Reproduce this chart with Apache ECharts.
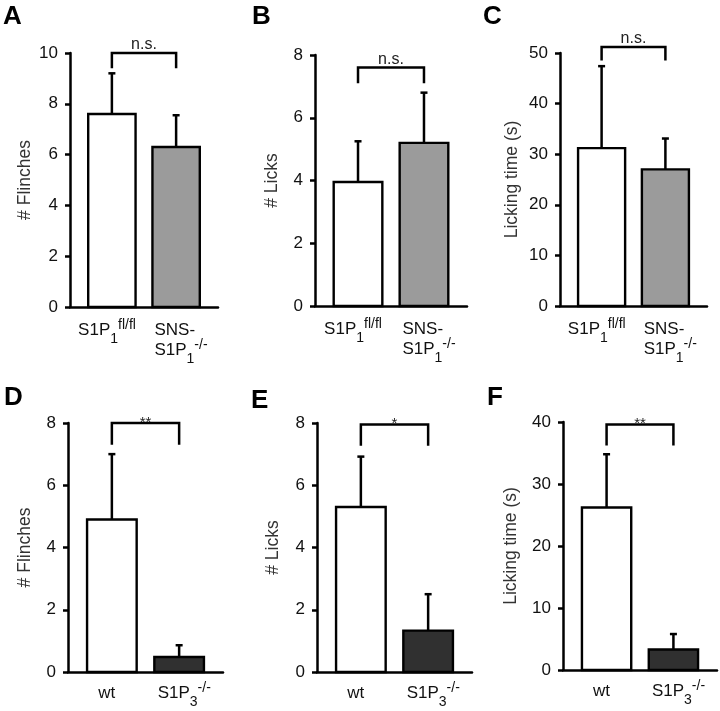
<!DOCTYPE html>
<html>
<head>
<meta charset="utf-8">
<script src="https://cdn.jsdelivr.net/npm/echarts@6/dist/echarts.min.js"></script>
<style>
  html, body { margin: 0; padding: 0; background: #fff; }
  #main { width: 720px; height: 711px; }
</style>
</head>
<body>
<div id="main"></div>
<script>
// categories (rich text: n = normal, sub = subscript, sup = superscript)
const catsTop = ['{n|S1P}{sub|1}{sup|fl/fl}', '{n|SNS-}\n{n|S1P}{sub|1}{sup|-/-}'];
const catsBottom = ['{n|wt}', '{n|S1P}{sub|3}{sup|-/-}'];

const letters = ['A', 'B', 'C', 'D', 'E', 'F'];
const yNames = ['# Flinches', '# Licks', 'Licking time (s)', '# Flinches', '# Licks', 'Licking time (s)'];
const yMax = [10, 8, 50, 8, 8, 40];
const yStep = [2, 2, 10, 2, 2, 10];

// bar means and SEM (upper error only)
const meanA = [7.6, 6.3],   errA = [1.6, 1.25];
const meanB = [3.95, 5.2],  errB = [1.3, 1.6];
const meanC = [31.2, 27.0], errC = [16.2, 6.1];
const meanD = [4.9, 0.48],  errD = [2.1, 0.38];
const meanE = [5.3, 1.33],  errE = [1.62, 1.17];
const meanF = [26.2, 3.3],  errF = [8.6, 2.5];

// significance brackets
const sigText = ['n.s.', 'n.s.', 'n.s.', '**', '*', '**'];
const bracketTop = [10, 7.6, 51.2, 8, 7.95, 39.6];
const bracketLeg = [9.4, 7.1, 48.5, 7.3, 7.27, 36.2];

const means = [meanA, meanB, meanC, meanD, meanE, meanF];
const errs = [errA, errB, errC, errD, errE, errF];

const FONT = 'Liberation Sans, Arial, sans-serif';
const grids = [
  { left: 70, top: 53, width: 148, height: 254 },
  { left: 315, top: 55, width: 152, height: 251 },
  { left: 560, top: 53, width: 147, height: 253 },
  { left: 68, top: 423, width: 155, height: 249 },
  { left: 317, top: 423, width: 155, height: 249 },
  { left: 563, top: 422, width: 154, height: 248 }
];
const letterPos = [[3, 4], [252, 4], [483, 4], [4, 385], [251, 388], [487, 385]];
const nameGaps = [36, 34, 39, 34, 35, 43];
const fills = [['#fff', '#9b9b9b'], ['#fff', '#9b9b9b'], ['#fff', '#9b9b9b'],
               ['#fff', '#303030'], ['#fff', '#303030'], ['#fff', '#303030']];
const BAR_W = 0.64, SHIFT = 0.066;

const rich = {
  n: { fontSize: 17, lineHeight: 20, align: 'left', fontFamily: FONT, color: '#111' },
  sub: { fontSize: 14, lineHeight: 20, align: 'left', fontFamily: FONT, color: '#111', padding: [18, 0, 0, 0] },
  sup: { fontSize: 14, lineHeight: 20, align: 'left', fontFamily: FONT, color: '#111', padding: [0, 0, 10, 0] }
};

const ink = { stroke: '#000', lineWidth: 2.5 };

function barRender(p) {
  return function (params, api) {
    const i = api.value(0), m = api.value(1), e = api.value(2);
    const base = api.coord([i, 0]);
    const top = api.coord([i, m]);
    const eTop = api.coord([i, m + e]);
    const band = api.size([1, 0])[0];
    const w = band * BAR_W;
    const cx = base[0] + (i === 0 ? 1 : -1) * band * SHIFT;
    return {
      type: 'group',
      children: [
        { type: 'rect', shape: { x: cx - w / 2, y: top[1], width: w, height: base[1] - top[1] },
          style: { fill: fills[p][i], stroke: '#000', lineWidth: 2.4 } },
        { type: 'line', shape: { x1: cx, y1: top[1], x2: cx, y2: eTop[1] }, style: ink },
        { type: 'line', shape: { x1: cx - 3.5, y1: eTop[1], x2: cx + 3.5, y2: eTop[1] }, style: ink }
      ]
    };
  };
}

function bracketRender(p) {
  return function (params, api) {
    const t = api.value(0), l = api.value(1);
    const band = api.size([1, 0])[0];
    const a = api.coord([0, t]), b = api.coord([1, t]);
    const la = api.coord([0, l]);
    const x1 = a[0] + band * SHIFT, x2 = b[0] - band * SHIFT;
    const star = sigText[p].indexOf('*') >= 0;
    return {
      type: 'group',
      children: [
        { type: 'polyline', shape: { points: [[x1, la[1]], [x1, a[1]], [x2, a[1]], [x2, la[1]]] },
          style: { stroke: '#000', lineWidth: 2.5, fill: null } },
        { type: 'text', style: {
            text: sigText[p], x: (x1 + x2) / 2, y: a[1] + (star ? 7 : 0),
            align: 'center', verticalAlign: 'bottom',
            font: (star ? '15px ' : '16px ') + FONT, fill: '#222' } }
      ]
    };
  };
}

const option = {
  animation: false,
  backgroundColor: '#fff',
  title: letters.map((t, k) => ({
    text: t, left: letterPos[k][0], top: letterPos[k][1], padding: 0,
    textStyle: { fontSize: 26, fontWeight: 'bold', fontFamily: FONT, color: '#000' }
  })),
  grid: grids,
  xAxis: grids.map((g, k) => ({
    type: 'category', gridIndex: k,
    data: k < 3 ? catsTop : catsBottom,
    axisLine: { show: true, lineStyle: { color: '#000', width: 2.5 } },
    axisTick: { show: false },
    axisLabel: { interval: 0, margin: k < 3 ? 13 : 11, rich: rich, lineHeight: 20 },
    splitLine: { show: false }
  })),
  yAxis: grids.map((g, k) => ({
    type: 'value', gridIndex: k, min: 0, max: yMax[k], interval: yStep[k],
    name: yNames[k], nameLocation: 'middle', nameGap: nameGaps[k],
    nameTextStyle: { fontSize: 17.5, fontFamily: FONT, color: '#333' },
    axisLine: { show: true, lineStyle: { color: '#000', width: 2.5 } },
    axisTick: { show: true, length: 5, lineStyle: { color: '#000', width: 2.5 } },
    axisLabel: { fontSize: 17, fontFamily: FONT, color: '#111', margin: 12 },
    splitLine: { show: false }
  })),
  series: []
};

means.forEach((m, k) => {
  option.series.push({
    type: 'custom', xAxisIndex: k, yAxisIndex: k, clip: false,
    renderItem: barRender(k),
    encode: { x: 0, y: 1 },
    data: m.map((v, i) => [i, v, errs[k][i]])
  });
  option.series.push({
    type: 'custom', xAxisIndex: k, yAxisIndex: k, clip: false,
    renderItem: bracketRender(k),
    encode: { y: [0, 1] },
    data: [[bracketTop[k], bracketLeg[k]]]
  });
});

const chart = echarts.init(document.getElementById('main'), null, { renderer: 'canvas' });
chart.setOption(option);
</script>
</body>
</html>
